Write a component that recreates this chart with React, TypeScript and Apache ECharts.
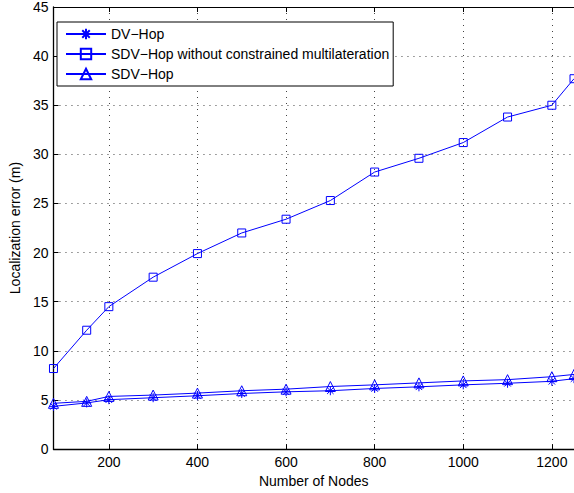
import React, { useEffect, useRef } from "react";
import * as echarts from "echarts";

const nodes = [75, 150, 200, 300, 400, 500, 600, 700, 800, 900, 1000, 1100, 1200, 1250];
const dvHop = [4.35, 4.7, 5.03, 5.23, 5.43, 5.66, 5.83, 5.94, 6.17, 6.34, 6.54, 6.7, 6.9, 7.17];
const sdvHopNoConstraint = [8.2, 12.1, 14.5, 17.5, 19.9, 22.0, 23.4, 25.3, 28.2, 29.6, 31.2, 33.8, 35.0, 37.7];
const sdvHop = [4.66, 4.86, 5.36, 5.5, 5.7, 5.94, 6.1, 6.37, 6.54, 6.74, 6.94, 7.07, 7.37, 7.6];
const xTicks = [200, 400, 600, 800, 1000, 1200];
const seriesNames = ["DV\u2212Hop", "SDV\u2212Hop without constrained multilateration", "SDV\u2212Hop"];

const BLUE = "#0000ff";
const FONT = "'Liberation Sans', Arial, Helvetica, sans-serif";
const FS = 14;
const ASTERISK = "path://M0,-5L0,5M-5,0L5,0M-3.6,-3.6L3.6,3.6M-3.6,3.6L3.6,-3.6";

function pairs(ys: number[]) {
  return nodes.map((x, i) => [x, ys[i]]);
}

export default function App() {
  const ref = useRef<HTMLDivElement>(null);
  useEffect(() => {
    if (!ref.current) return;
    const chart = echarts.init(ref.current, null, { renderer: "svg" });
    const mk = (name: string, ys: number[], symbol: string, size: number) => ({
      name,
      type: "line",
      data: pairs(ys),
      symbol,
      symbolSize: size,
      showAllSymbol: true,
      lineStyle: { color: BLUE, width: 1 },
      itemStyle: { color: "rgba(0,0,0,0)", borderColor: BLUE, borderWidth: 1 },
      emphasis: { disabled: true },
      clip: true,
    });
    chart.setOption({
      animation: false,
      backgroundColor: "#fff",
      textStyle: { fontFamily: FONT },
      grid: { left: 49, top: 7, width: 527, height: 447, containLabel: false },
      legend: {
        show: true,
        orient: "vertical",
        left: 57,
        top: 22,
        padding: [5, 4, 5, 8],
        itemWidth: 40,
        itemHeight: 13,
        itemGap: 6,
        borderColor: "#000",
        borderWidth: 1,
        backgroundColor: "#fff",
        textStyle: { fontSize: FS, color: "#000", fontFamily: FONT },
        data: seriesNames,
      },
      xAxis: [
        {
          type: "value",
          min: 75,
          max: 1250,
          name: "Number of Nodes",
          nameLocation: "middle",
          nameGap: 20,
          nameTextStyle: { fontSize: FS, color: "#000", fontFamily: FONT },
          axisLine: { show: true, onZero: false, lineStyle: { color: "#000", width: 1.3 } },
          axisTick: { show: true, inside: true, length: 5, customValues: xTicks, lineStyle: { color: "#000" } },
          axisLabel: {
            customValues: xTicks,
            fontSize: FS,
            color: "#000",
            margin: 6,
            fontFamily: FONT,
            formatter: (v: number) => String(v),
          },
          splitLine: { show: true, lineStyle: { color: "#444", type: [1, 5], width: 1 } },
        },
        {
          type: "value",
          position: "top",
          min: 75,
          max: 1250,
          axisLine: { show: true, onZero: false, lineStyle: { color: "#000", width: 1 } },
          axisTick: { show: true, inside: true, length: 5, customValues: xTicks, lineStyle: { color: "#000" } },
          axisLabel: { show: false },
          splitLine: { show: false },
        },
      ],
      yAxis: {
        type: "value",
        min: 0,
        max: 45,
        interval: 5,
        name: "Localization error (m)",
        nameLocation: "middle",
        nameGap: 28,
        nameTextStyle: { fontSize: FS, color: "#000", fontFamily: FONT },
        axisLine: { show: true, onZero: false, lineStyle: { color: "#000", width: 1.3 } },
        axisTick: { show: true, inside: true, length: 5, lineStyle: { color: "#000" } },
        axisLabel: { fontSize: FS, color: "#000", margin: 5, fontFamily: FONT },
        splitLine: { show: true, lineStyle: { color: "#444", type: [1, 5], width: 1 } },
      },
      series: [
        mk(seriesNames[0], dvHop, ASTERISK, 9),
        mk(seriesNames[1], sdvHopNoConstraint, "rect", 8),
        mk(seriesNames[2], sdvHop, "triangle", 10),
      ],
    });
    return () => chart.dispose();
  }, []);
  return (
    <div
      ref={ref}
      style={{ position: "fixed", left: 0, top: 0, width: 574, height: 493, background: "#fff" }}
    />
  );
}
